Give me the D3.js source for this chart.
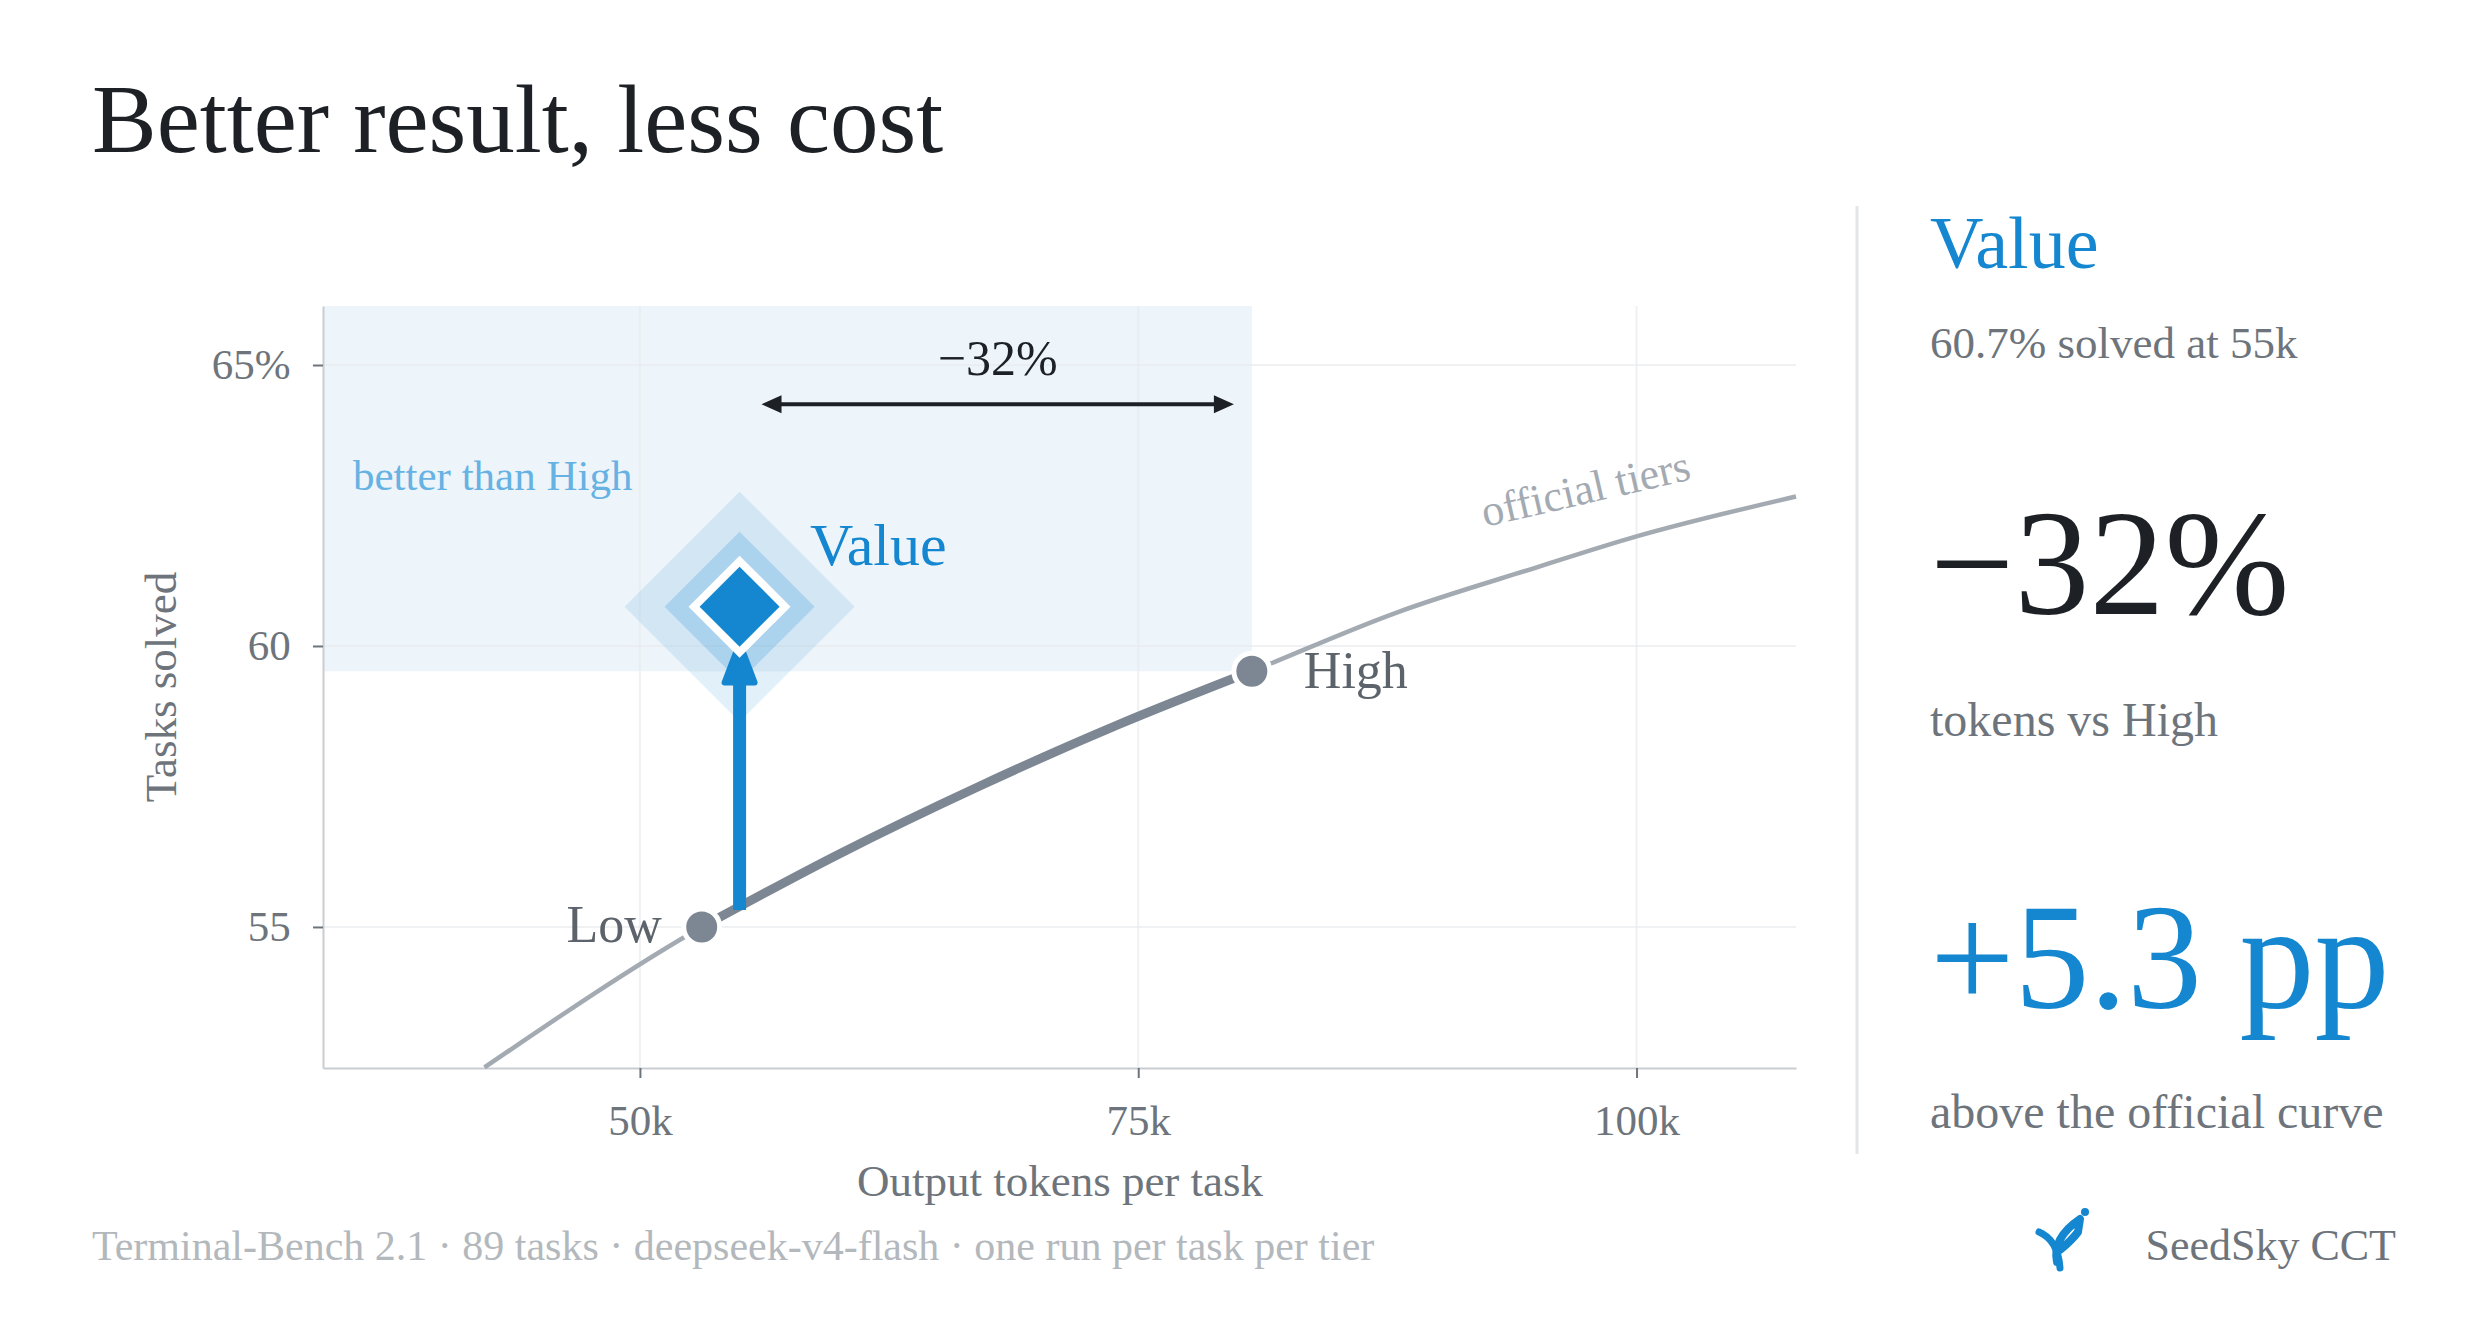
<!DOCTYPE html>
<html><head><meta charset="utf-8">
<script src="https://cdn.jsdelivr.net/npm/d3@7"></script>
<style>body{margin:0;background:#fff}svg{display:block;font-family:"Liberation Serif","DejaVu Serif",serif}</style>
</head><body>
<script>
// official tier curve (k tokens, % solved)
var curveX = [42.2, 53.1, 60, 67, 74, 80.7, 88, 95, 100, 108];
var curveY = [52.5, 55.0, 56.3, 57.5, 58.6, 59.55, 60.6, 61.4, 61.95, 62.66];
var tierNames = ["Low", "High"];
var tierX = [53.1, 80.7];
var tierY = [55.0, 59.55];
var valueX = 55, valueY = 60.7;
var xTicks = [50, 75, 100];
var xTickLabels = ["50k", "75k", "100k"];
var yTicks = [55, 60, 65];
var yTickLabels = ["55", "60", "65%"];

var W = 2475, H = 1341;
var blue = "#1487d0", grey = "#7d8794", text = "#6e747b";

var svg = d3.select("body").append("svg").attr("width", W).attr("height", H);

var x = d3.scaleLinear().domain([34.1, 108]).range([323, 1796]);
var y = d3.scaleLinear().domain([52.49, 66.05]).range([1068, 306]);

svg.append("text").attr("x", 92).attr("y", 152).attr("font-size", 97).attr("fill", "#1d2126")
    .text("Better result, less cost");

// shaded region
svg.append("rect").attr("x", x(34.1)).attr("y", y(66.05))
    .attr("width", x(tierX[1]) - x(34.1)).attr("height", y(tierY[1]) - y(66.05))
    .attr("fill", "#edf4fa");

// grid
svg.selectAll(".gx").data(xTicks).enter().append("line")
    .attr("x1", d => x(d)).attr("x2", d => x(d)).attr("y1", 306).attr("y2", 1068)
    .attr("stroke", "#e9ecef").attr("stroke-width", 2).attr("opacity", 0.7);
svg.selectAll(".gy").data(yTicks).enter().append("line")
    .attr("x1", 323).attr("x2", 1796).attr("y1", d => y(d)).attr("y2", d => y(d))
    .attr("stroke", "#e9ecef").attr("stroke-width", 2).attr("opacity", 0.7);

// axes
var xa = svg.append("g").attr("transform", "translate(0,1068)")
    .call(d3.axisBottom(x).tickValues(xTicks).tickFormat((d, i) => xTickLabels[i]).tickSize(10).tickSizeOuter(0));
var ya = svg.append("g").attr("transform", "translate(323,0)")
    .call(d3.axisLeft(y).tickValues(yTicks).tickFormat((d, i) => yTickLabels[i]).tickSize(10).tickSizeOuter(0));
[xa, ya].forEach(a => {
  a.select(".domain").attr("stroke", "#c9cdd2").attr("stroke-width", 2);
  a.selectAll(".tick line").attr("stroke", "#6e747b").attr("stroke-width", 2);
  a.selectAll("text").attr("font-size", 43).attr("fill", text).attr("font-family", "Liberation Serif");
});
xa.selectAll("text").attr("dy", "1.25em");
ya.selectAll("text").attr("dx", "-0.45em");

svg.append("text").attr("x", 1060).attr("y", 1196).attr("text-anchor", "middle")
    .attr("font-size", 45).attr("fill", text).text("Output tokens per task");
svg.append("text").attr("transform", "translate(176,687) rotate(-90)").attr("text-anchor", "middle")
    .attr("font-size", 45).attr("fill", text).text("Tasks solved");

// curve
var pts = curveX.map((d, i) => [d, curveY[i]]);
var line = d3.line().x(d => x(d[0])).y(d => y(d[1])).curve(d3.curveMonotoneX);
svg.append("path").datum(pts).attr("d", line).attr("fill", "none")
    .attr("stroke", "#a3aab2").attr("stroke-width", 4.5);
svg.append("path").datum(pts.filter(p => p[0] >= tierX[0] && p[0] <= tierX[1])).attr("d", line)
    .attr("fill", "none").attr("stroke", grey).attr("stroke-width", 9);
svg.append("text").attr("transform", "translate(1485,527) rotate(-13)")
    .attr("font-size", 44).attr("fill", "#a3aab2").text("official tiers");

// tier dots
svg.selectAll(".tier").data(tierX).enter().append("circle")
    .attr("cx", d => x(d)).attr("cy", (d, i) => y(tierY[i])).attr("r", 18)
    .attr("fill", grey).attr("stroke", "#fff").attr("stroke-width", 5);
svg.append("text").attr("x", x(tierX[0]) - 40).attr("y", y(tierY[0]) + 15).attr("text-anchor", "end")
    .attr("font-size", 52).attr("fill", "#5c636b").text(tierNames[0]);
svg.append("text").attr("x", x(tierX[1]) + 52).attr("y", y(tierY[1]) + 17)
    .attr("font-size", 52).attr("fill", "#5c636b").text(tierNames[1]);

// vertical arrow
var ax = x(valueX);
svg.append("line").attr("x1", ax).attr("x2", ax).attr("y1", y(55.3)).attr("y2", y(59.6))
    .attr("stroke", blue).attr("stroke-width", 13);
svg.append("path").attr("d", `M${ax},${y(60.05)} L${ax - 15},${y(59.35)} L${ax + 15},${y(59.35)} Z`)
    .attr("fill", blue).attr("stroke", blue).attr("stroke-width", 6).attr("stroke-linejoin", "round");

// diamond
var cx = x(valueX), cy = y(valueY);
function dia(r) { return `M${cx},${cy - r} L${cx + r},${cy} L${cx},${cy + r} L${cx - r},${cy} Z`; }
svg.append("path").attr("d", dia(115)).attr("fill", blue).attr("opacity", 0.12);
svg.append("path").attr("d", dia(75)).attr("fill", blue).attr("opacity", 0.2);
svg.append("path").attr("d", dia(51)).attr("fill", "#fff");
svg.append("path").attr("d", dia(40)).attr("fill", blue);
svg.append("text").attr("x", 810).attr("y", 565).attr("font-size", 60).attr("fill", blue).text("Value");
svg.append("text").attr("x", 353).attr("y", 490).attr("font-size", 43).attr("fill", "#66b2e3").text("better than High");

// horizontal arrow
var hy = y(64.3), hx1 = x(56.1), hx2 = x(79.8);
svg.append("line").attr("x1", hx1 + 8).attr("x2", hx2 - 8).attr("y1", hy).attr("y2", hy)
    .attr("stroke", "#1d2126").attr("stroke-width", 4);
svg.append("path").attr("d", `M${hx1},${hy} l20,-9 l0,18 Z M${hx2},${hy} l-20,-9 l0,18 Z`).attr("fill", "#1d2126");
svg.append("text").attr("x", (hx1 + hx2) / 2).attr("y", 375).attr("text-anchor", "middle")
    .attr("font-size", 50).attr("fill", "#1d2126").text("\u221232%");

// right panel
svg.append("line").attr("x1", 1857).attr("x2", 1857).attr("y1", 206).attr("y2", 1154)
    .attr("stroke", "#e3e6e9").attr("stroke-width", 3);
var panel = [
  {t: "Value", y: 268, s: 74, c: blue},
  {t: "60.7% solved at 55k", y: 358, s: 45, c: text},
  {t: "\u221232%", y: 614, s: 150, c: "#1d2126"},
  {t: "tokens vs High", y: 736, s: 48, c: text},
  {t: "+5.3 pp", y: 1008, s: 150, c: blue},
  {t: "above the official curve", y: 1128, s: 48, c: text}
];
svg.selectAll(".pt").data(panel).enter().append("text")
    .attr("x", 1930).attr("y", d => d.y).attr("font-size", d => d.s).attr("fill", d => d.c).text(d => d.t);

// footer
svg.append("text").attr("x", 92).attr("y", 1260).attr("font-size", 42).attr("fill", "#b3b8bd")
    .text("Terminal-Bench 2.1 \u00b7 89 tasks \u00b7 deepseek-v4-flash \u00b7 one run per task per tier");
svg.append("text").attr("x", 2396).attr("y", 1260).attr("text-anchor", "end").attr("font-size", 44)
    .attr("fill", "#6e747b").text("SeedSky CCT");
var logo = svg.append("g").attr("fill", "none").attr("stroke", blue).attr("stroke-linecap", "round");
logo.append("path").attr("d", "M2039,1232 Q2058,1240 2060,1268").attr("stroke-width", 7);
logo.append("path").attr("d", "M2057,1262 Q2052,1238 2080,1219 L2078,1232 Q2072,1240 2060,1250").attr("stroke-width", 8).attr("stroke-linejoin", "round");
svg.append("circle").attr("cx", 2085).attr("cy", 1212).attr("r", 4).attr("fill", blue);
</script>
</body></html>
